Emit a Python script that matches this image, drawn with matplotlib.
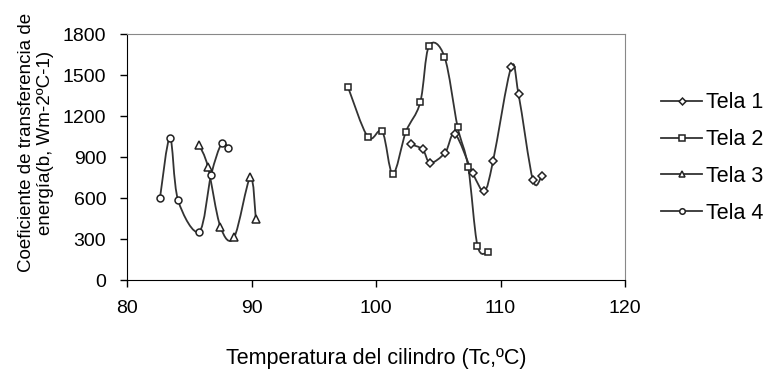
import matplotlib.pyplot as plt
import numpy as np
from matplotlib.path import Path
from matplotlib.patches import PathPatch
from matplotlib.lines import Line2D

plt.rcParams['font.family'] = ['Liberation Sans', 'DejaVu Sans']

# Datos
tela1_x = [102.8, 103.75, 104.35, 105.55, 106.35, 107.75, 108.7, 109.4, 110.85, 111.45, 112.6, 113.3]
tela1_y = [993, 956, 858, 932, 1068, 785, 654, 871, 1556, 1359, 732, 761]

tela2_x = [97.75, 99.35, 100.5, 101.35, 102.4, 103.55, 104.25, 105.5, 106.55, 107.4, 108.15, 109.0]
tela2_y = [1412, 1046, 1088, 776, 1085, 1300, 1712, 1634, 1122, 829, 251, 203]

tela3_x = [85.8, 86.5, 87.5, 88.6, 89.9, 90.35]
tela3_y = [988, 829, 390, 312, 751, 444]

tela4_x = [82.65, 83.45, 84.1, 85.8, 86.75, 87.6, 88.15]
tela4_y = [602, 1041, 585, 354, 768, 1000, 963]

nombres = ['Tela 1', 'Tela 2', 'Tela 3', 'Tela 4']
marcadores = ['D', 's', '^', 'o']
tamanos = [4.5, 5, 5.5, 5]


# Curva suave tipo Excel (Bezier) a traves de los puntos
def curva_suave(ax, x, y, color):
    x = np.asarray(x, float)
    y = np.asarray(y, float)
    n = len(x)
    verts = [(x[0], y[0])]
    codes = [Path.MOVETO]
    for i in range(n - 1):
        x0, y0 = (x[i - 1], y[i - 1]) if i > 0 else (x[i], y[i])
        x3, y3 = (x[i + 2], y[i + 2]) if i + 2 < n else (x[i + 1], y[i + 1])
        c1 = (x[i] + (x[i + 1] - x0) / 6, y[i] + (y[i + 1] - y0) / 6)
        c2 = (x[i + 1] - (x3 - x[i]) / 6, y[i + 1] - (y3 - y[i]) / 6)
        verts += [c1, c2, (x[i + 1], y[i + 1])]
        codes += [Path.CURVE4] * 3
    ax.add_patch(PathPatch(Path(verts, codes), fill=False, edgecolor=color, lw=1.3, zorder=2))


fig = plt.figure(figsize=(7.67, 3.79), dpi=100)
ax = fig.add_axes([0.1656, 0.261, 0.6493, 0.649])

series = [(tela1_x, tela1_y), (tela2_x, tela2_y), (tela3_x, tela3_y), (tela4_x, tela4_y)]
color = '#333333'
handles = []
for (sx, sy), nom, mk, ms in zip(series, nombres, marcadores, tamanos):
    curva_suave(ax, sx, sy, color)
    ax.plot(sx, sy, linestyle='none', marker=mk, ms=ms, mfc='white', mec='#222222', mew=1.1, zorder=3)
    handles.append(Line2D([], [], color=color, lw=1.3, marker=mk, ms=ms - 1, mfc='white',
                          mec='#222222', mew=1.1, label=nom))

ax.set_xlim(80, 120)
ax.set_ylim(0, 1800)
ax.set_xticks([80, 90, 100, 110, 120])
ax.set_yticks([0, 300, 600, 900, 1200, 1500, 1800])
ax.tick_params(direction='out', length=5, width=1, labelsize=14, colors='black')
ax.tick_params(axis='x', pad=9)
ax.tick_params(axis='y', pad=10)
for s in ['top', 'right']:
    ax.spines[s].set_color('#888888')
for s in ['left', 'bottom']:
    ax.spines[s].set_color('black')

fig.text(0.49, 0.053, 'Temperatura del cilindro (Tc,ºC)', ha='center', va='center', fontsize=15.5)
fig.text(0.047, 0.623, 'Coeficiente de transferencia de\nenergía(b, Wm-2ºC-1)', ha='center', va='center',
         rotation=90, fontsize=13.5, linespacing=1.2)

fig.legend(handles=handles, loc='center left', bbox_to_anchor=(0.862, 0.583), frameon=False,
           fontsize=15.5, handlelength=1.9, labelspacing=0.74, handletextpad=0.2,
           borderpad=0, borderaxespad=0)

fig.savefig('out.png', dpi=100)
